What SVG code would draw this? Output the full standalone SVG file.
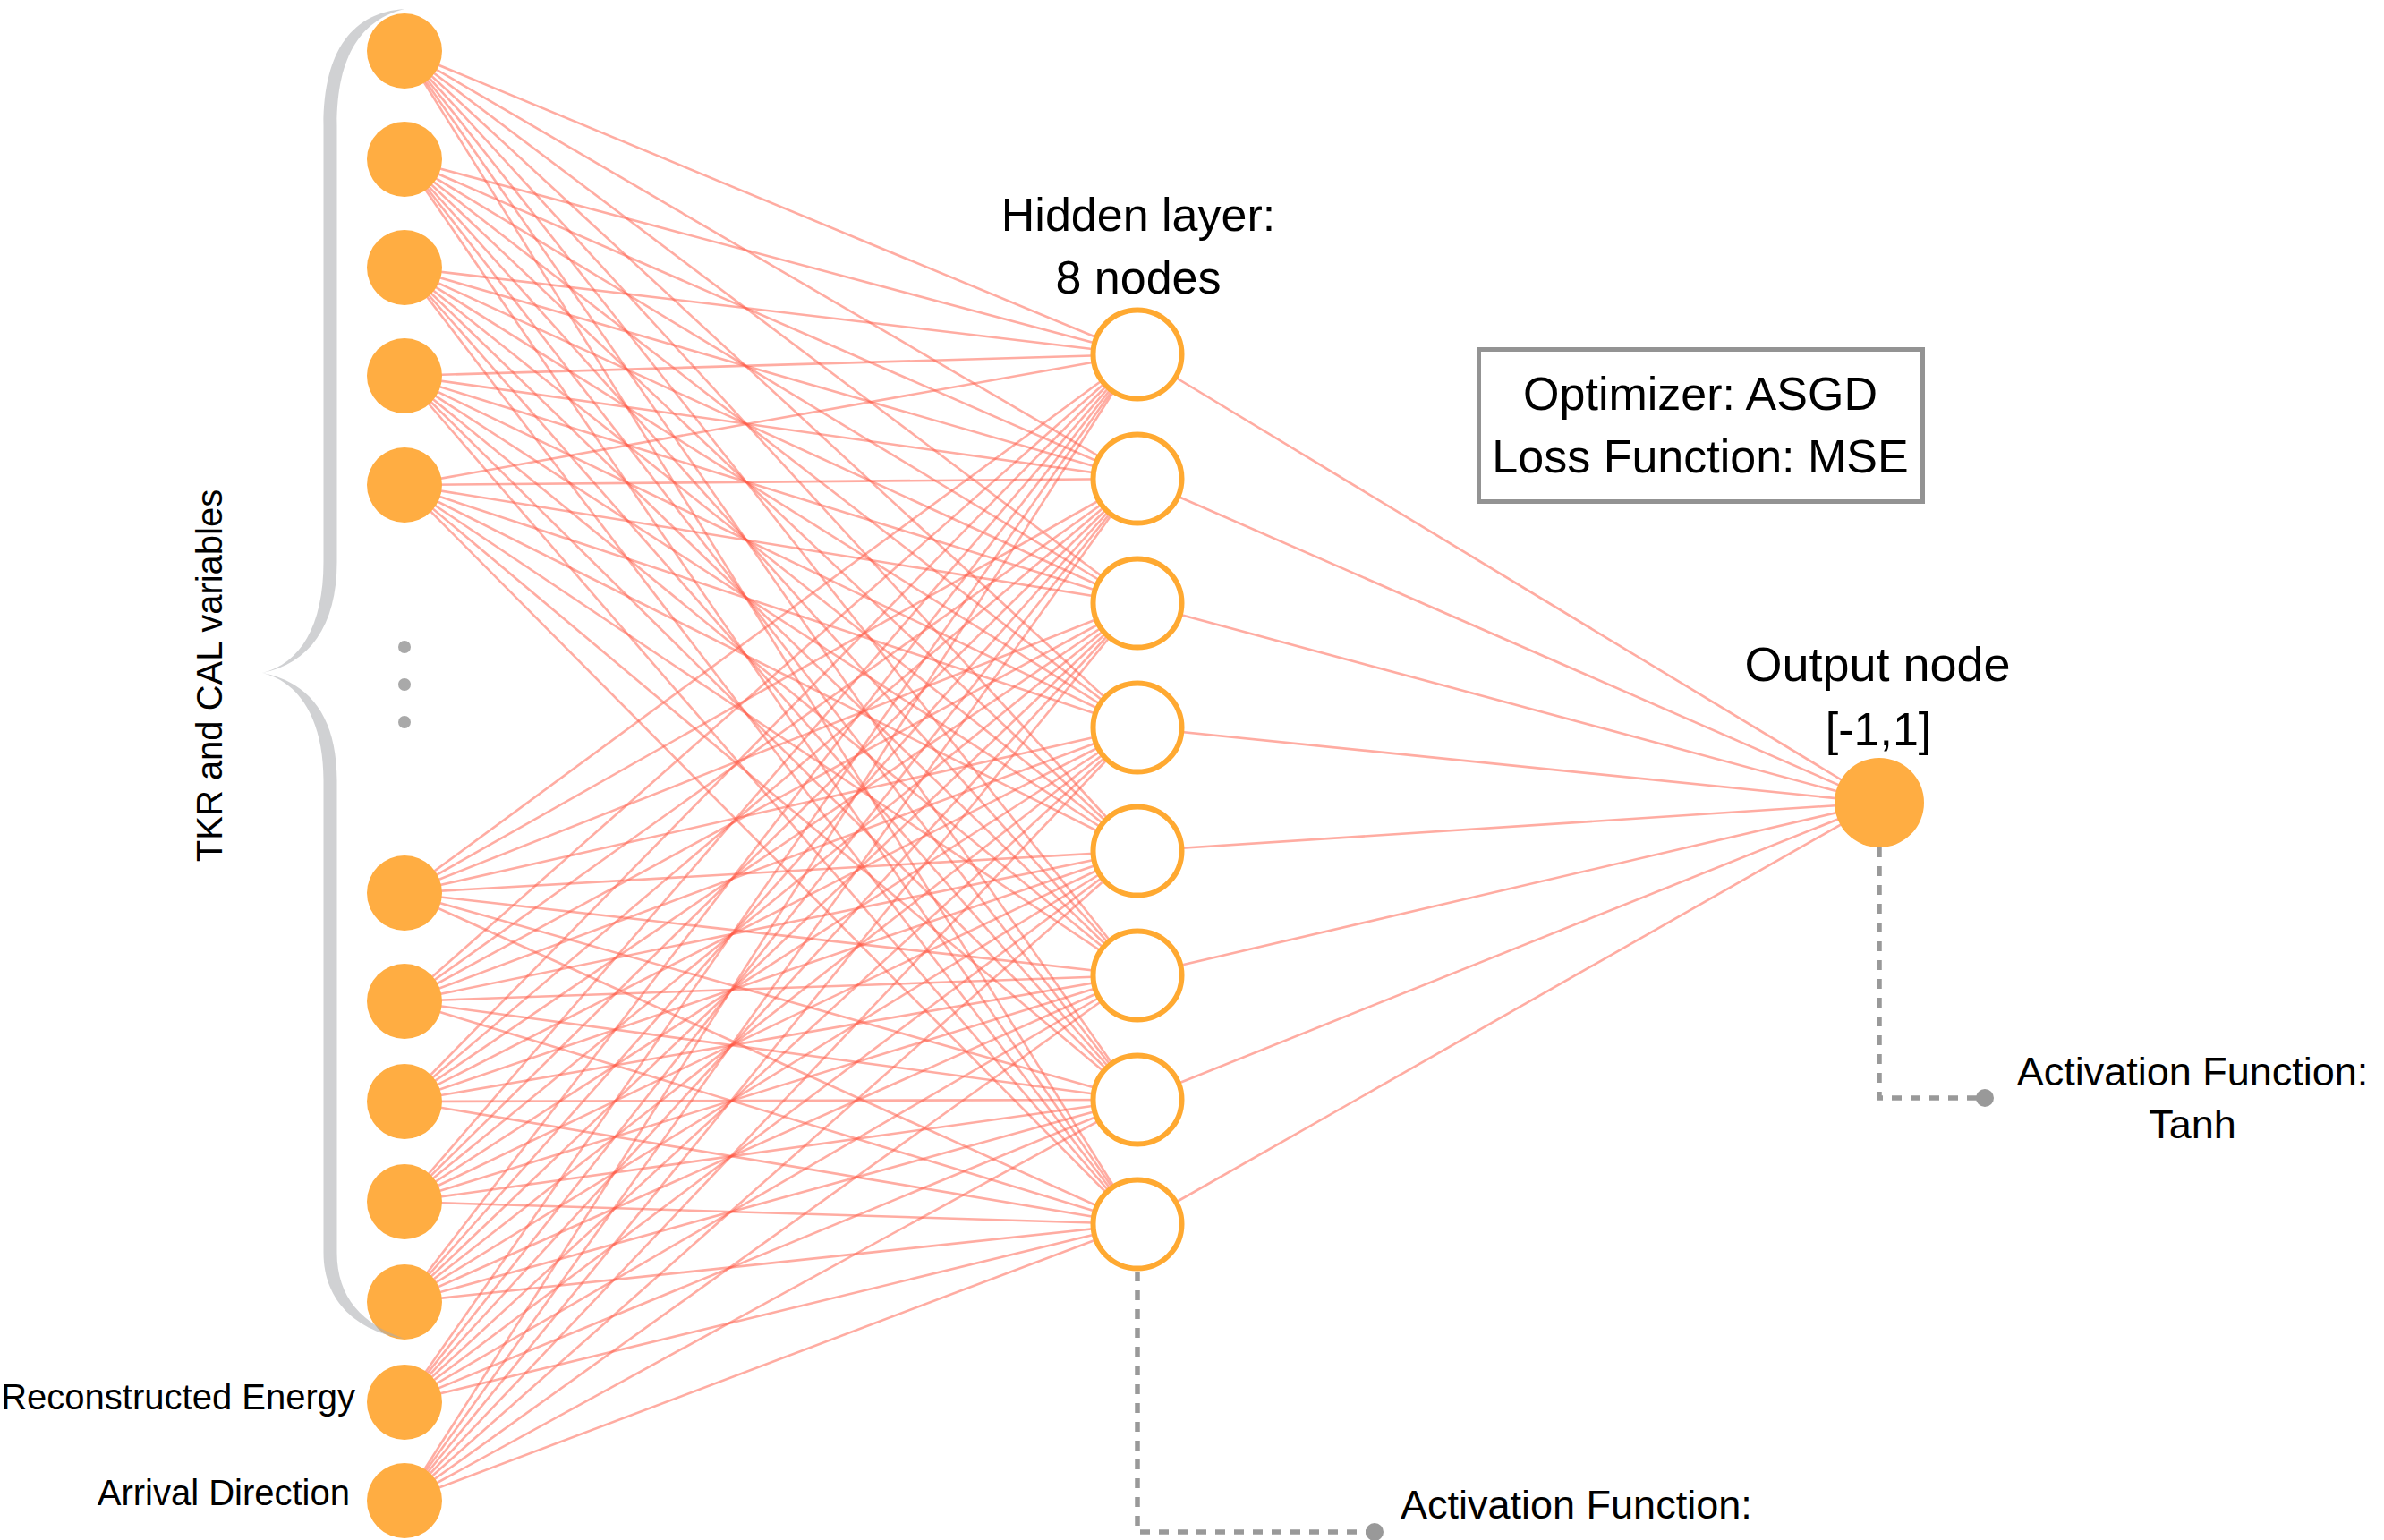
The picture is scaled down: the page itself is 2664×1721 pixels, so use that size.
<svg xmlns="http://www.w3.org/2000/svg" width="2664" height="1721" viewBox="0 0 2664 1721">
  <style>
    text { font-family: "Liberation Sans", Arial, sans-serif; fill: #000; }
    .edges path { stroke: #ff5a46; stroke-opacity: 0.5; stroke-width: 2.6; fill: none; }
    .in { fill: #ffad42; }
    .hid { fill: #fff; stroke: #ffa931; stroke-width: 6; }
    .out { fill: #ffad42; }
    .lead { fill: none; stroke: #999; stroke-width: 5.5; stroke-dasharray: 11 10; }
    .pin { fill: #999; }
    .dot { fill: #a9a9a9; }
  </style>

  <rect width="2664" height="1721" fill="#fff"/>

  <!-- weights: every input to every hidden unit, then hidden to output -->
  <g id="connectors" class="edges">
    <path d="M452 57L1271 396"/><path d="M452 57L1271 535"/><path d="M452 57L1271 674"/><path d="M452 57L1271 813"/><path d="M452 57L1271 951"/><path d="M452 57L1271 1090"/><path d="M452 57L1271 1229"/><path d="M452 57L1271 1368"/>
    <path d="M452 178L1271 396"/><path d="M452 178L1271 535"/><path d="M452 178L1271 674"/><path d="M452 178L1271 813"/><path d="M452 178L1271 951"/><path d="M452 178L1271 1090"/><path d="M452 178L1271 1229"/><path d="M452 178L1271 1368"/>
    <path d="M452 299L1271 396"/><path d="M452 299L1271 535"/><path d="M452 299L1271 674"/><path d="M452 299L1271 813"/><path d="M452 299L1271 951"/><path d="M452 299L1271 1090"/><path d="M452 299L1271 1229"/><path d="M452 299L1271 1368"/>
    <path d="M452 420L1271 396"/><path d="M452 420L1271 535"/><path d="M452 420L1271 674"/><path d="M452 420L1271 813"/><path d="M452 420L1271 951"/><path d="M452 420L1271 1090"/><path d="M452 420L1271 1229"/><path d="M452 420L1271 1368"/>
    <path d="M452 542L1271 396"/><path d="M452 542L1271 535"/><path d="M452 542L1271 674"/><path d="M452 542L1271 813"/><path d="M452 542L1271 951"/><path d="M452 542L1271 1090"/><path d="M452 542L1271 1229"/><path d="M452 542L1271 1368"/>
    <path d="M452 998L1271 396"/><path d="M452 998L1271 535"/><path d="M452 998L1271 674"/><path d="M452 998L1271 813"/><path d="M452 998L1271 951"/><path d="M452 998L1271 1090"/><path d="M452 998L1271 1229"/><path d="M452 998L1271 1368"/>
    <path d="M452 1119L1271 396"/><path d="M452 1119L1271 535"/><path d="M452 1119L1271 674"/><path d="M452 1119L1271 813"/><path d="M452 1119L1271 951"/><path d="M452 1119L1271 1090"/><path d="M452 1119L1271 1229"/><path d="M452 1119L1271 1368"/>
    <path d="M452 1231L1271 396"/><path d="M452 1231L1271 535"/><path d="M452 1231L1271 674"/><path d="M452 1231L1271 813"/><path d="M452 1231L1271 951"/><path d="M452 1231L1271 1090"/><path d="M452 1231L1271 1229"/><path d="M452 1231L1271 1368"/>
    <path d="M452 1343L1271 396"/><path d="M452 1343L1271 535"/><path d="M452 1343L1271 674"/><path d="M452 1343L1271 813"/><path d="M452 1343L1271 951"/><path d="M452 1343L1271 1090"/><path d="M452 1343L1271 1229"/><path d="M452 1343L1271 1368"/>
    <path d="M452 1455L1271 396"/><path d="M452 1455L1271 535"/><path d="M452 1455L1271 674"/><path d="M452 1455L1271 813"/><path d="M452 1455L1271 951"/><path d="M452 1455L1271 1090"/><path d="M452 1455L1271 1229"/><path d="M452 1455L1271 1368"/>
    <path d="M452 1567L1271 396"/><path d="M452 1567L1271 535"/><path d="M452 1567L1271 674"/><path d="M452 1567L1271 813"/><path d="M452 1567L1271 951"/><path d="M452 1567L1271 1090"/><path d="M452 1567L1271 1229"/><path d="M452 1567L1271 1368"/>
    <path d="M452 1677L1271 396"/><path d="M452 1677L1271 535"/><path d="M452 1677L1271 674"/><path d="M452 1677L1271 813"/><path d="M452 1677L1271 951"/><path d="M452 1677L1271 1090"/><path d="M452 1677L1271 1229"/><path d="M452 1677L1271 1368"/>
    <path d="M1271 396L2100 897"/><path d="M1271 535L2100 897"/><path d="M1271 674L2100 897"/><path d="M1271 813L2100 897"/><path d="M1271 951L2100 897"/><path d="M1271 1090L2100 897"/><path d="M1271 1229L2100 897"/><path d="M1271 1368L2100 897"/>
  </g>

  <!-- activation-function leaders -->
  <g id="leaders">
    <path class="lead" d="M1271 1421V1712H1530"/>
    <circle class="pin" cx="1536" cy="1712" r="10"/>
    <path class="lead" d="M2100 947V1227H2212"/>
    <circle class="pin" cx="2218" cy="1227" r="10"/>
  </g>

  <!-- input layer -->
  <g id="input-1"><circle class="in" cx="452" cy="57" r="42"/></g>
  <g id="input-2"><circle class="in" cx="452" cy="178" r="42"/></g>
  <g id="input-3"><circle class="in" cx="452" cy="299" r="42"/></g>
  <g id="input-4"><circle class="in" cx="452" cy="420" r="42"/></g>
  <g id="input-5"><circle class="in" cx="452" cy="542" r="42"/></g>
  <g id="input-ellipsis">
    <circle class="dot" cx="452" cy="723" r="7"/>
    <circle class="dot" cx="452" cy="765" r="7"/>
    <circle class="dot" cx="452" cy="807" r="7"/>
  </g>
  <g id="input-6"><circle class="in" cx="452" cy="998" r="42"/></g>
  <g id="input-7"><circle class="in" cx="452" cy="1119" r="42"/></g>
  <g id="input-8"><circle class="in" cx="452" cy="1231" r="42"/></g>
  <g id="input-9"><circle class="in" cx="452" cy="1343" r="42"/></g>
  <g id="input-10"><circle class="in" cx="452" cy="1455" r="42"/></g>
  <g id="input-energy"><circle class="in" cx="452" cy="1567" r="42"/></g>
  <g id="input-direction"><circle class="in" cx="452" cy="1677" r="42"/></g>

  <!-- hidden layer -->
  <g id="hidden-1"><circle class="hid" cx="1271" cy="396" r="49.5"/></g>
  <g id="hidden-2"><circle class="hid" cx="1271" cy="535" r="49.5"/></g>
  <g id="hidden-3"><circle class="hid" cx="1271" cy="674" r="49.5"/></g>
  <g id="hidden-4"><circle class="hid" cx="1271" cy="813" r="49.5"/></g>
  <g id="hidden-5"><circle class="hid" cx="1271" cy="951" r="49.5"/></g>
  <g id="hidden-6"><circle class="hid" cx="1271" cy="1090" r="49.5"/></g>
  <g id="hidden-7"><circle class="hid" cx="1271" cy="1229" r="49.5"/></g>
  <g id="hidden-8"><circle class="hid" cx="1271" cy="1368" r="49.5"/></g>

  <!-- output -->
  <g id="output"><circle class="out" cx="2100" cy="897" r="50"/></g>

  <!-- curly brace grouping the detector inputs -->
  <g id="brace">
    <path fill="#a9abae" fill-opacity="0.55" d="M452 10 C395 14 361.5 55 361.5 140 L361.5 628 C361.5 700 335 742 293 752 C335 762 361.5 805 361.5 872 L361.5 1400 C361.5 1455 400 1488 452 1496 C405 1480 376.5 1450 376.5 1400 L376.5 872 C376.5 800 345 762 293 752 C345 742 376.5 700 376.5 628 L376.5 140 C376.5 60 405 22 452 10 Z"/>
  </g>

  <!-- labels -->
  <g id="labels">
    <text transform="translate(248,755) rotate(-90)" text-anchor="middle" font-size="40">TKR and CAL variables</text>
    <text x="397" y="1575" text-anchor="end" font-size="40">Reconstructed Energy</text>
    <text x="391" y="1682" text-anchor="end" font-size="40">Arrival Direction</text>
    <text x="1272" y="258" text-anchor="middle" font-size="52">Hidden layer:</text>
    <text x="1272" y="328" text-anchor="middle" font-size="52">8 nodes</text>
    <text x="2098" y="761" text-anchor="middle" font-size="54">Output node</text>
    <text x="2099" y="833" text-anchor="middle" font-size="52">[-1,1]</text>
    <text x="2450" y="1213" text-anchor="middle" font-size="45">Activation Function:</text>
    <text x="2450" y="1272" text-anchor="middle" font-size="45">Tanh</text>
    <text x="1565" y="1697" font-size="45">Activation Function:</text>
  </g>

  <!-- training settings -->
  <g id="settings">
    <rect x="1652.5" y="390.5" width="496" height="170" fill="#fff" stroke="#939393" stroke-width="5"/>
    <text x="1900" y="458" text-anchor="middle" font-size="52">Optimizer: ASGD</text>
    <text x="1900" y="528" text-anchor="middle" font-size="52">Loss Function: MSE</text>
  </g>
</svg>
